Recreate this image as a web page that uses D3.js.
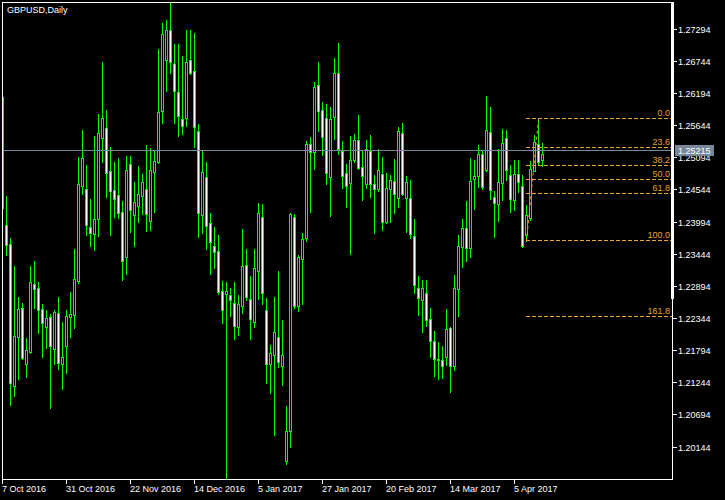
<!DOCTYPE html>
<html><head><meta charset="utf-8">
<script src="https://cdn.jsdelivr.net/npm/d3@7"></script>
<style>
html,body{margin:0;padding:0;background:#000;}
svg{display:block;}
text{font-family:"Liberation Sans",Arial,sans-serif;font-size:9px;}
</style></head><body>
<svg id="c" width="725" height="500"></svg>
<script>
const chartTitle = "GBPUSD,Daily";
const open = [1.26140,1.23951,1.23627,1.21198,1.22036,1.22532,1.21575,1.21780,1.22943,1.22874,
1.22515,1.22207,1.22378,1.21831,1.22447,1.21575,1.21882,1.22378,1.22412,1.22994,
1.24618,1.24567,1.23917,1.23798,1.24054,1.25439,1.25610,1.24875,1.24550,1.24464,
1.24174,1.23404,1.24995,1.24122,1.24276,1.24447,1.24567,1.24020,1.24858,1.25029,
1.25901,1.26773,1.27286,1.26705,1.26226,1.25764,1.25781,1.26773,1.26585,1.25559,
1.24122,1.24772,1.23986,1.23592,1.23507,1.22823,1.22772,1.22754,1.22618,1.22207,
1.22566,1.23267,1.22686,1.22293,1.23165,1.24088,1.22498,1.21575,1.21728,1.22036,
1.21540,1.19916,1.20429,1.24088,1.22566,1.23370,1.23729,1.25337,1.25200,1.26345,
1.25918,1.25781,1.24772,1.25798,1.26551,1.25217,1.24841,1.24670,1.25063,1.25405,
1.24943,1.24653,1.25217,1.24653,1.24567,1.24824,1.24003,1.24567,1.24704,1.24413,
1.25525,1.24413,1.24413,1.23763,1.22874,1.22669,1.22789,1.22344,1.21968,1.21660,
1.21643,1.21694,1.22190,1.21540,1.22857,1.23575,1.23900,1.23558,1.24738,1.24789,
1.25166,1.24892,1.25542,1.24430,1.24311,1.24670,1.25439,1.24806,1.24379,1.24824,
1.24618,1.23780,1.24071,1.24875,1.25337,1.25063];
const high = [1.26174,1.24447,1.23729,1.23250,1.22720,1.22618,1.22019,1.23250,1.23336,1.22977,
1.22601,1.22498,1.22430,1.22498,1.22720,1.22293,1.22498,1.22806,1.23541,1.25114,
1.25576,1.24977,1.24396,1.25473,1.25850,1.26739,1.25918,1.25285,1.25029,1.25097,
1.24362,1.25131,1.25131,1.24687,1.24960,1.24824,1.25319,1.25268,1.25234,1.26961,
1.27406,1.27457,1.27748,1.27047,1.27047,1.26841,1.27286,1.27286,1.27235,1.25679,
1.25217,1.25029,1.24157,1.23917,1.23780,1.22994,1.22977,1.22874,1.22977,1.22754,
1.23883,1.23541,1.23079,1.23541,1.24328,1.24311,1.22703,1.21899,1.22720,1.23165,
1.22327,1.20856,1.24157,1.24140,1.23438,1.23815,1.25388,1.25456,1.26397,1.26739,
1.26055,1.26021,1.25969,1.26807,1.27064,1.25388,1.24995,1.25473,1.25508,1.25832,
1.25217,1.25405,1.25490,1.24806,1.25251,1.25114,1.24841,1.24806,1.25080,1.25627,
1.25696,1.24789,1.24721,1.24054,1.23079,1.23011,1.23011,1.22532,1.22139,1.21951,
1.21882,1.22515,1.22207,1.23096,1.23780,1.24054,1.24362,1.25097,1.25063,1.25319,
1.25217,1.26157,1.25969,1.24533,1.25251,1.25593,1.25576,1.24977,1.25063,1.25063,
1.24806,1.24293,1.25046,1.25490,1.25763,1.25354];
const low = [1.24208,1.23438,1.20873,1.21027,1.21318,1.21660,1.21352,1.21763,1.22532,1.22105,
1.21694,1.21848,1.20822,1.21575,1.21489,1.21147,1.21421,1.22036,1.22190,1.22960,
1.24482,1.23780,1.23592,1.23524,1.23763,1.25029,1.24430,1.23780,1.24088,1.24071,
1.23011,1.23114,1.23832,1.23592,1.24003,1.24140,1.23849,1.23866,1.24174,1.25012,
1.25696,1.26243,1.26551,1.25696,1.25473,1.25508,1.25644,1.26534,1.25285,1.23746,
1.23815,1.23541,1.23114,1.23216,1.22772,1.22276,1.19608,1.22395,1.22002,1.22070,
1.22447,1.22669,1.22002,1.22207,1.22686,1.22601,1.21250,1.21079,1.20360,1.21523,
1.21215,1.19865,1.20155,1.22532,1.22481,1.22601,1.23678,1.24174,1.24909,1.25559,
1.25148,1.24653,1.24105,1.25422,1.25166,1.24584,1.24259,1.23456,1.25029,1.24909,
1.24379,1.24584,1.24430,1.23815,1.24533,1.23866,1.23986,1.24003,1.24157,1.24259,
1.24464,1.23832,1.23729,1.22789,1.22412,1.22122,1.22224,1.21694,1.21369,1.21318,
1.21335,1.21557,1.21096,1.21472,1.22395,1.23233,1.23336,1.23404,1.24225,1.24601,
1.24567,1.24875,1.24396,1.23746,1.24020,1.24379,1.24721,1.24174,1.24208,1.24516,
1.23575,1.23676,1.24037,1.24870,1.24995,1.24960];
const close = [1.24242,1.23609,1.21250,1.22053,1.22515,1.21677,1.21814,1.22977,1.22857,1.22498,
1.22276,1.22361,1.21882,1.22464,1.21592,1.21694,1.22395,1.22430,1.23028,1.24653,
1.25097,1.23951,1.23815,1.24054,1.25525,1.25781,1.24841,1.24533,1.24396,1.24157,
1.23336,1.24892,1.24208,1.24345,1.24482,1.24687,1.24140,1.24892,1.25046,1.25884,
1.27218,1.27286,1.26739,1.26243,1.25815,1.25644,1.26739,1.26551,1.25627,1.24157,
1.24858,1.23934,1.23661,1.23490,1.22806,1.22498,1.22823,1.22669,1.22224,1.22601,
1.23250,1.22720,1.22344,1.23216,1.24157,1.22789,1.21575,1.21763,1.22122,1.21609,
1.21728,1.20429,1.24140,1.22566,1.23404,1.23712,1.25337,1.25200,1.26311,1.25901,
1.25456,1.24841,1.25764,1.26551,1.25251,1.24789,1.24618,1.25063,1.25405,1.24926,
1.24789,1.25251,1.24653,1.24567,1.24892,1.24003,1.24584,1.24721,1.24482,1.25559,
1.24482,1.24687,1.23798,1.22925,1.22703,1.22874,1.22327,1.21968,1.21660,1.21643,
1.21540,1.22173,1.21540,1.22874,1.23592,1.23900,1.23558,1.24704,1.24789,1.25166,
1.24601,1.25576,1.24550,1.24328,1.24687,1.25354,1.24892,1.24396,1.24824,1.24687,
1.23592,1.24122,1.24909,1.25371,1.25029,1.25166];

const xTickIndex = [0,16,32,48,64,80,96,112,128];
const xTickLabels = ["7 Oct 2016","31 Oct 2016","22 Nov 2016","14 Dec 2016","5 Jan 2017","27 Jan 2017","20 Feb 2017","14 Mar 2017","5 Apr 2017"];
const yTickValues = [1.27294,1.26744,1.26194,1.25644,1.25094,1.24544,1.23994,1.23444,1.22894,1.22344,1.21794,1.21244,1.20694,1.20144];
const bidPrice = 1.25215;
const fibHigh = 1.25763, fibLow = 1.23676;
const fibLowIndex = 131, fibHighIndex = 134;
const fibLevels = [0, 0.236, 0.382, 0.5, 0.618, 1, 1.618];
const fibLabels = ["0.0","23.6","38.2","50.0","61.8","100.0","161.8"];

const W = 725, H = 500;
const LIME = "#00ff00", FIB = "#e6a32e", BIDC = "#778899";
const x = d3.scaleLinear().domain([0, 135]).range([2, 542]);
const y = d3.scaleLinear().domain([1.19591, 1.27765]).range([480, 2]);
const R = v => Math.round(y(v));

const svg = d3.select("#c");
svg.append("rect").attr("width", W).attr("height", H).attr("fill", "#000");
svg.append("defs").append("clipPath").attr("id", "pc")
  .append("rect").attr("x", 3).attr("y", 3).attr("width", 669).attr("height", 476);
const g = svg.append("g").attr("clip-path", "url(#pc)");

// candles
const idx = d3.range(open.length);
const cs = g.append("g").selectAll("g").data(idx).join("g");
cs.append("rect")
  .attr("x", i => Math.round(x(i))).attr("y", i => R(high[i]))
  .attr("width", 1).attr("height", i => R(low[i]) - R(high[i]) + 1)
  .attr("fill", LIME);
cs.append("rect")
  .attr("x", i => Math.round(x(i)) - 1).attr("y", i => R(Math.max(open[i], close[i])))
  .attr("width", 3).attr("height", i => R(Math.min(open[i], close[i])) - R(Math.max(open[i], close[i])) + 1)
  .attr("fill", LIME);
cs.filter(i => R(Math.min(open[i], close[i])) - R(Math.max(open[i], close[i])) >= 2)
  .append("rect")
  .attr("x", i => Math.round(x(i))).attr("y", i => R(Math.max(open[i], close[i])) + 1)
  .attr("width", 1).attr("height", i => R(Math.min(open[i], close[i])) - R(Math.max(open[i], close[i])) - 1)
  .attr("fill", i => close[i] < open[i] ? "#ffffff" : "#000000");

// bid line
g.append("rect").attr("x", 3).attr("y", R(bidPrice) - 1).attr("width", 669).attr("height", 1).attr("fill", BIDC);

// fibonacci
const fibPrice = l => fibHigh - l * (fibHigh - fibLow);
const fx0 = Math.round(x(fibLowIndex));
g.append("line")
  .attr("x1", Math.round(x(fibLowIndex)) + 0.5).attr("y1", y(fibLow))
  .attr("x2", Math.round(x(fibHighIndex)) + 0.5).attr("y2", y(fibHigh))
  .attr("stroke", FIB).attr("stroke-width", 1).attr("stroke-dasharray", "3,3");
const fg = g.append("g").selectAll("g").data(fibLevels).join("g");
fg.append("line")
  .attr("x1", fx0).attr("x2", 672)
  .attr("y1", l => R(fibPrice(l)) - 0.5).attr("y2", l => R(fibPrice(l)) - 0.5)
  .attr("stroke", FIB).attr("stroke-width", 1).attr("stroke-dasharray", "4,2");
fg.append("text")
  .attr("x", 670).attr("y", l => R(fibPrice(l)) - 3)
  .attr("text-anchor", "end").attr("fill", FIB)
  .text((l, k) => fibLabels[k]);

// frame
const white = "#ffffff";
svg.append("rect").attr("x", 2).attr("y", 2).attr("width", 671).attr("height", 1).attr("fill", white);
svg.append("rect").attr("x", 2).attr("y", 2).attr("width", 1).attr("height", 478).attr("fill", white);
svg.append("rect").attr("x", 2).attr("y", 479).attr("width", 671).attr("height", 1).attr("fill", white);
svg.append("rect").attr("x", 672).attr("y", 2).attr("width", 1).attr("height", 478).attr("fill", white);
svg.append("rect").attr("x", 671).attr("y", 2).attr("width", 3).attr("height", 297).attr("fill", white);

// title
svg.append("text").attr("x", 7).attr("y", 13).attr("fill", white).text(chartTitle);

// y axis
const ya = svg.append("g").selectAll("g").data(yTickValues).join("g");
ya.append("rect").attr("x", 673).attr("y", d => R(d) - 1).attr("width", 4).attr("height", 1).attr("fill", white);
ya.append("text").attr("x", 678).attr("y", d => R(d) + 3).attr("fill", white)
  .text(d => d3.format(".5f")(d));

// x axis
const xa = svg.append("g").selectAll("g").data(xTickIndex).join("g");
xa.append("rect").attr("x", i => Math.round(x(i))).attr("y", 480).attr("width", 1).attr("height", 4).attr("fill", white);
xa.append("text").attr("x", i => Math.round(x(i))).attr("y", 492).attr("fill", white)
  .text((i, k) => xTickLabels[k]);

// bid label
const by = R(bidPrice);
svg.append("rect").attr("x", 675).attr("y", by - 6).attr("width", 39).attr("height", 11).attr("fill", BIDC);
svg.append("text").attr("x", 678).attr("y", by + 3).attr("fill", white).text(d3.format(".5f")(bidPrice));
</script>
</body></html>
